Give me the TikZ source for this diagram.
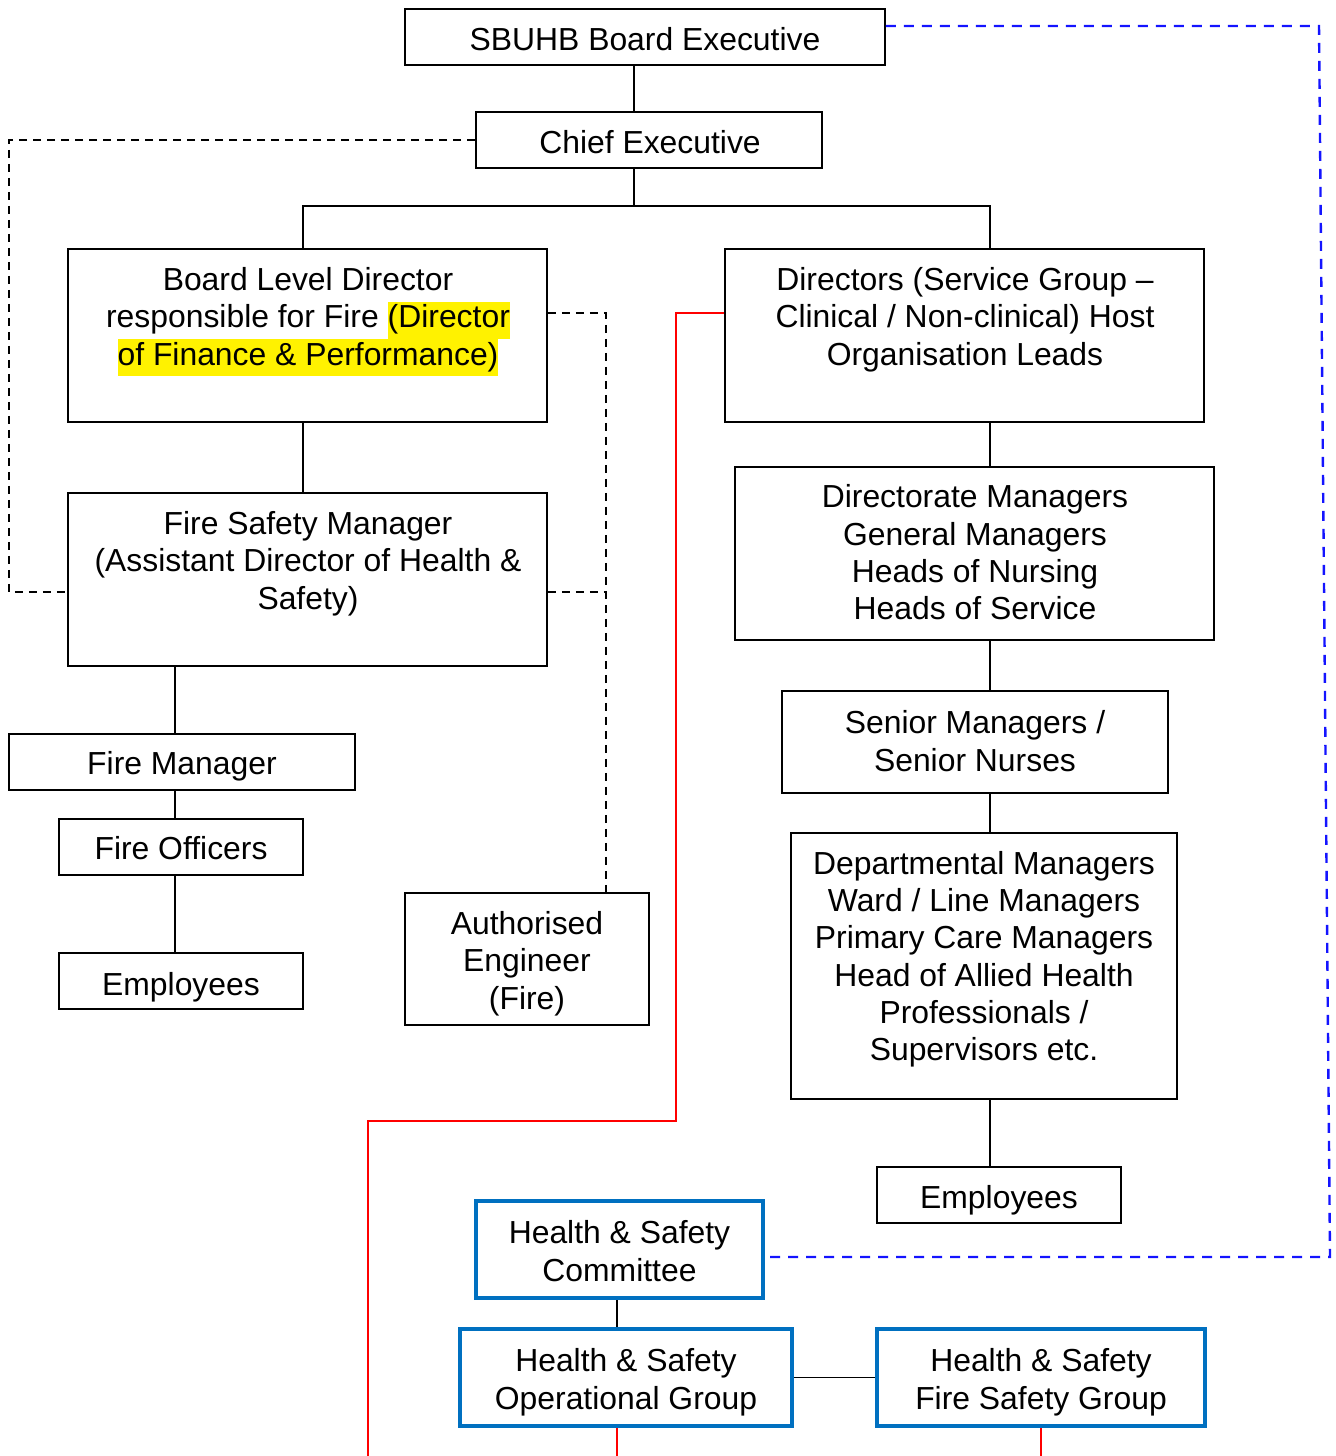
\documentclass[tikz,border=0pt]{standalone}
\usepackage{fontspec}
\setmainfont{Liberation Sans}
\usetikzlibrary{fit}
\setlength{\fboxsep}{0pt}
\newcommand{\hl}[1]{\colorbox{yellow}{\strut #1}}
\begin{document}
\begin{tikzpicture}[x=0.75pt,y=-0.75pt,
  box/.style={draw=black, line width=1.4pt, inner sep=0pt},
  bbox/.style={draw={rgb,255:red,0;green,112;blue,192}, line width=3pt, inner sep=0pt},
  txt/.style={align=center, inner sep=0pt, font=\fontsize{23.9}{28}\selectfont,
    execute at begin node=\strut, execute at end node=\strut},
  con/.style={line width=1.2pt, draw=black},
  dsh/.style={line width=1.3pt, draw=black, dash pattern=on 6pt off 4.5pt},
  bdsh/.style={line width=1.8pt, draw={rgb,255:red,20;green,20;blue,255}, dash pattern=on 7.5pt off 6pt},
  rline/.style={line width=1.3pt, draw={rgb,255:red,255;green,0;blue,0}},
]
\useasboundingbox (0,0) rectangle (1335,1456);

% boxes
\node[box, fit={(405,9) (885,65)}] (sbuhb) {};
\node[box, fit={(476,112) (822,168)}] (ce) {};
\node[box, fit={(68,249) (547,422)}] (bld) {};
\node[box, fit={(725,249) (1204,422)}] (dir) {};
\node[box, fit={(68,493) (547,666)}] (fsm) {};
\node[box, fit={(735,467) (1214,640)}] (dm) {};
\node[box, fit={(782,691) (1168,793)}] (sm) {};
\node[box, fit={(791,833) (1177,1099)}] (dep) {};
\node[box, fit={(877,1167) (1121,1223)}] (empR) {};
\node[box, fit={(9,734) (355,790)}] (fm) {};
\node[box, fit={(59,819) (303,875)}] (fo) {};
\node[box, fit={(59,953) (303,1009)}] (empL) {};
\node[box, fit={(405,893) (649,1025)}] (ae) {};
\node[bbox, fit={(476,1201) (763,1298)}] (hsc) {};
\node[bbox, fit={(460,1329) (792,1426)}] (hop) {};
\node[bbox, fit={(877,1329) (1205,1426)}] (hfs) {};

% texts
\node[txt] (sbuhbT) at (645,43) {SBUHB Board Executive};
\node[txt] (ceT) at (650,146) {Chief Executive};
\node[txt] (bldT) at (308,322) {Board Level Director\\responsible for Fire \hl{(Director}\\\hl{of Finance \& Performance)}};
\node[txt] (dirT) at (965,322) {Directors (Service Group --\\Clinical / Non-clinical) Host\\Organisation Leads};
\node[txt] (fsmT) at (308,566) {Fire Safety Manager\\(Assistant Director of Health \&\\Safety)};
\node[txt] (dmT) at (975,558) {Directorate Managers\\General Managers\\Heads of Nursing\\Heads of Service};
\node[txt] (smT) at (975,746.5) {Senior Managers /\\Senior Nurses};
\node[txt] (depT) at (984,961.5) {Departmental Managers\\Ward / Line Managers\\Primary Care Managers\\Head of Allied Health\\Professionals /\\Supervisors etc.};
\node[txt] (empRT) at (999,1201) {Employees};
\node[txt] (fmT) at (182,767) {Fire Manager};
\node[txt] (foT) at (181,852) {Fire Officers};
\node[txt] (empLT) at (181,988) {Employees};
\node[txt] (aeT) at (527,966) {Authorised\\Engineer\\(Fire)};
\node[txt] (hscT) at (619.5,1256.5) {Health \& Safety\\Committee};
\node[txt] (hopT) at (626,1384.5) {Health \& Safety\\Operational Group};
\node[txt] (hfsT) at (1041,1384.5) {Health \& Safety\\Fire Safety Group};

% helper coordinates
\coordinate (x9) at (9,0);
\coordinate (x175) at (175,0);
\coordinate (x303) at (303,0);
\coordinate (x368) at (368,0);
\coordinate (x606) at (606,0);
\coordinate (x617) at (617,0);
\coordinate (x634) at (634,0);
\coordinate (x676) at (676,0);
\coordinate (x990) at (990,0);
\coordinate (x1041) at (1041,0);
\coordinate (y26) at (0,26);
\coordinate (y206) at (0,206);
\coordinate (y313) at (0,313);
\coordinate (y592) at (0,592);
\coordinate (y1121) at (0,1121);
\coordinate (y1257) at (0,1257);
\coordinate (bt1) at (1319,26);
\coordinate (bt2) at (1330,1257);
\coordinate (ybot) at (0,1456);

% solid connectors
\draw[con] (sbuhb.south -| x634) -- (ce.north -| x634);
\draw[con] (ce.south -| x634) -- (x634 |- y206);
\draw[con] (bld.north -| x303) -- (x303 |- y206) -- (x990 |- y206) -- (dir.north -| x990);
\draw[con] (bld.south -| x303) -- (fsm.north -| x303);
\draw[con] (fsm.south -| x175) -- (fm.north -| x175);
\draw[con] (fm.south -| x175) -- (fo.north -| x175);
\draw[con] (fo.south -| x175) -- (empL.north -| x175);
\draw[con] (dir.south -| x990) -- (dm.north -| x990);
\draw[con] (dm.south -| x990) -- (sm.north -| x990);
\draw[con] (sm.south -| x990) -- (dep.north -| x990);
\draw[con] (dep.south -| x990) -- (empR.north -| x990);
\draw[con] (hsc.south -| x617) -- (hop.north -| x617);
\draw[con] (hop.east) -- (hfs.west);

% dashed black
\draw[dsh] (ce.west) -- (x9 |- ce.west) -- (x9 |- y592) -- (fsm.west |- y592);
\draw[dsh] (bld.east |- y313) -- (x606 |- y313) -- (ae.north -| x606);
\draw[dsh] (fsm.east |- y592) -- (x606 |- y592);

% dashed blue
\draw[bdsh] (sbuhb.east |- y26) -- (bt1) -- (bt2) -- (hsc.east |- y1257);

% red
\draw[rline] (dir.west |- y313) -- (x676 |- y313) -- (x676 |- y1121) -- (x368 |- y1121) -- (x368 |- ybot);
\draw[rline] (hop.south -| x617) -- (x617 |- ybot);
\draw[rline] (hfs.south -| x1041) -- (x1041 |- ybot);
\end{tikzpicture}
\end{document}
